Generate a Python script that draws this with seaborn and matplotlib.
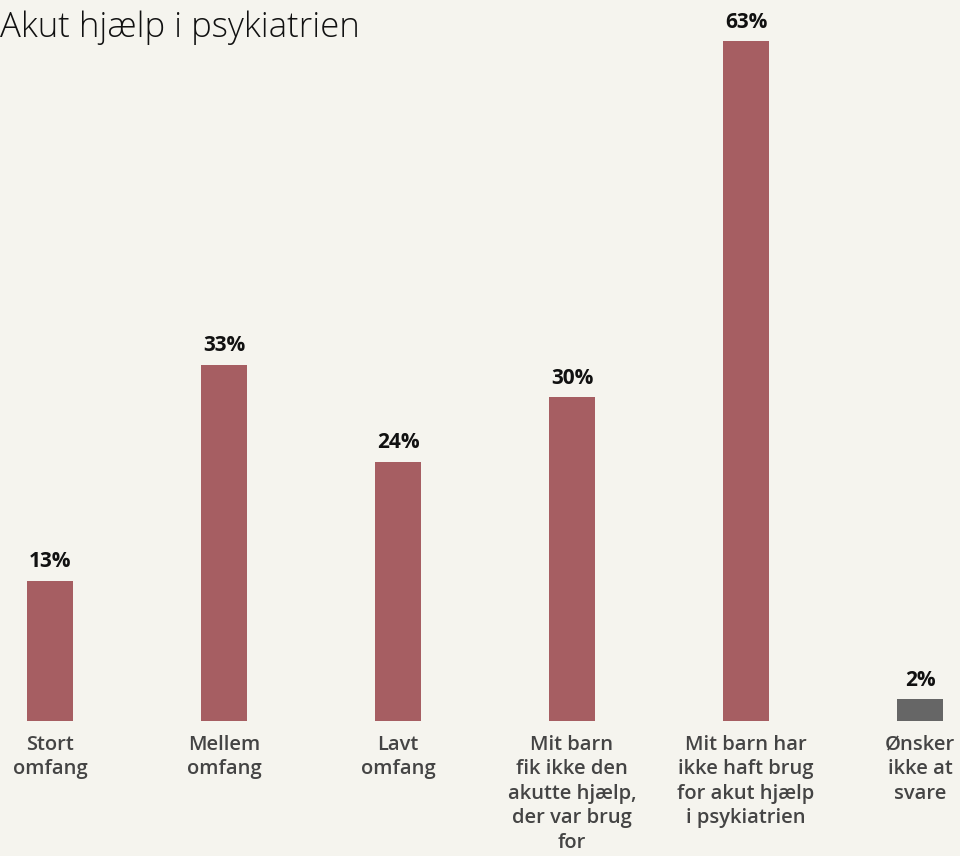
import matplotlib
matplotlib.use("Agg")
import matplotlib.pyplot as plt
import seaborn as sns
import pandas as pd

categories = ["Stort\nomfang", "Mellem\nomfang", "Lavt\nomfang",
              "Mit barn\nfik ikke den\nakutte hjælp,\nder var brug\nfor",
              "Mit barn har\nikke haft brug\nfor akut hjælp\ni psykiatrien",
              "Ønsker\nikke at\nsvare"]
values = [13, 33, 24, 30, 63, 2]
groups = ["a", "a", "a", "a", "a", "b"]
title = "Akut hjælp i psykiatrien"

bg = "#f5f4ee"
sns.set_theme(style="white")
plt.rcParams["font.family"] = ["Open Sans", "DejaVu Sans"]

df = pd.DataFrame({"cat": categories, "val": values, "grp": groups})

fig = plt.figure(figsize=(9.6, 8.56), dpi=100, facecolor=bg)
ax = fig.add_axes([0, 1 - 721 / 856, 1, 721 / 856])
ax.set_facecolor(bg)

sns.barplot(data=df, x="cat", y="val", hue="grp",
            palette={"a": "#a65e62", "b": "#666666"},
            width=0.264, dodge=False, legend=False, ax=ax, saturation=1,
            linewidth=0, edgecolor="none")

for i, v in enumerate(values):
    ax.text(i, v + 0.8, f"{v}%", ha="center", va="bottom",
            fontsize=15, fontweight="bold", color="#111111")

ax.set_xlim(-50 / 174, 910 / 174)
ax.set_ylim(0, 721 / 10.79)
ax.set_xlabel("")
ax.set_ylabel("")
ax.set_yticks([])
ax.tick_params(axis="x", length=0, pad=10)
ax.set_xticks(range(len(categories)))
ax.set_xticklabels(categories, fontsize=14.5, color="#444444",
                   fontweight="semibold", linespacing=1.3)
for s in ax.spines.values():
    s.set_visible(False)

fig.text(0.0, 0.967, title, fontsize=25, color="#111111",
         ha="left", va="center", fontweight="light")

fig.savefig("out.png", dpi=100, facecolor=bg)
